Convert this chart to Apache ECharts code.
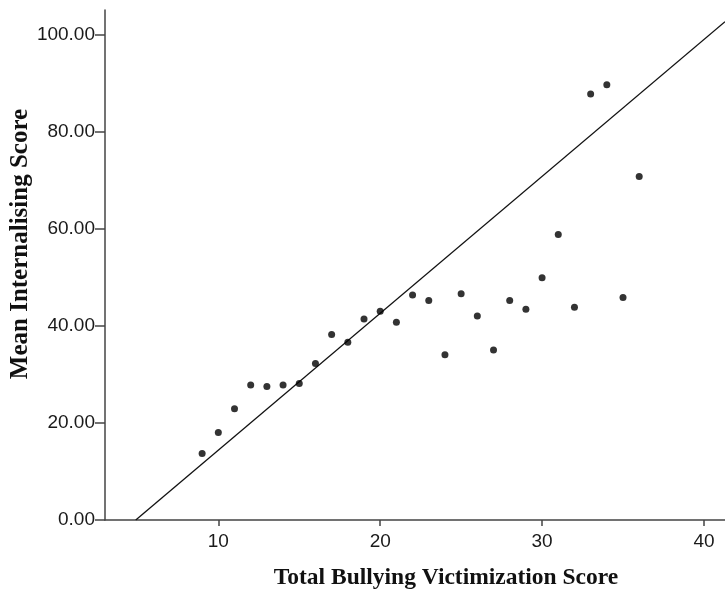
<!DOCTYPE html>
<html>
<head>
<meta charset="utf-8">
<script src="https://cdn.jsdelivr.net/npm/echarts@6/dist/echarts.min.js"></script>
<style>
html,body{margin:0;padding:0;background:#fff;}
#chart{width:725px;height:590px;}
</style>
</head>
<body>
<div id="chart"></div>
<script>
// Data
var bullyScore = [9, 10, 11, 12, 13, 14, 15, 16, 17, 18, 19, 20, 21, 22, 23, 24, 25, 26, 27, 28, 29, 30, 31, 32, 33, 34, 35, 36];
var internalising = [13.7, 18.0, 22.9, 27.8, 27.5, 27.8, 28.1, 32.2, 38.2, 36.6, 41.4, 43.0, 40.7, 46.3, 45.2, 34.0, 46.6, 42.0, 35.0, 45.2, 43.4, 49.9, 58.8, 43.8, 87.7, 89.6, 45.8, 70.7];
var fitLineX = [4.9, 41.3];
var fitLineY = [0, 102.6];
var xTicks = [10, 20, 30, 40];
var yTicks = [0, 20, 40, 60, 80, 100];
var xTitle = 'Total Bullying Victimization Score';
var yTitle = 'Mean Internalising Score';

var points = bullyScore.map(function (x, i) { return [x, internalising[i]]; });
var fitLine = fitLineX.map(function (x, i) { return [x, fitLineY[i]]; });

var axisColor = '#444';
var chart = echarts.init(document.getElementById('chart'), null, {renderer: 'canvas'});
chart.setOption({
  animation: false,
  backgroundColor: '#fff',
  grid: {left: 105, top: 10, right: 0, bottom: 70, containLabel: false},
  xAxis: {
    type: 'value', min: 3, max: 41.3,
    axisLine: {show: true, lineStyle: {color: axisColor, width: 1.5}},
    axisTick: {show: true, length: 6, customValues: xTicks, lineStyle: {color: axisColor, width: 1.5}},
    axisLabel: {customValues: xTicks, margin: 12, fontSize: 19, color: '#1a1a1a', fontFamily: 'Liberation Sans'},
    splitLine: {show: false}
  },
  yAxis: {
    type: 'value', min: 0, max: 105,
    axisLine: {show: true, lineStyle: {color: axisColor, width: 1.5}},
    axisTick: {show: true, length: 10, customValues: yTicks, lineStyle: {color: axisColor, width: 1.5}},
    axisLabel: {customValues: yTicks, margin: 10, fontSize: 19, color: '#1a1a1a', fontFamily: 'Liberation Sans',
      formatter: function (v) { return v.toFixed(2); }},
    splitLine: {show: false}
  },
  series: [
    {type: 'line', data: fitLine, showSymbol: false, symbol: 'none', silent: true,
     lineStyle: {color: '#111', width: 1.3}, clip: true, z: 1},
    {type: 'scatter', data: points, symbol: 'circle', symbolSize: 7,
     itemStyle: {color: '#000'}, z: 2}
  ],
  graphic: [
    {type: 'text', x: 446, y: 578, style: {text: xTitle, textAlign: 'center', textVerticalAlign: 'middle',
      font: 'bold 23.5px "Liberation Serif"', fill: '#111'}},
    {type: 'text', x: 21, y: 244, rotation: Math.PI / 2, style: {text: yTitle, textAlign: 'center', textVerticalAlign: 'middle',
      font: 'bold 25px "Liberation Serif"', fill: '#111'}}
  ]
});
</script>
</body>
</html>
